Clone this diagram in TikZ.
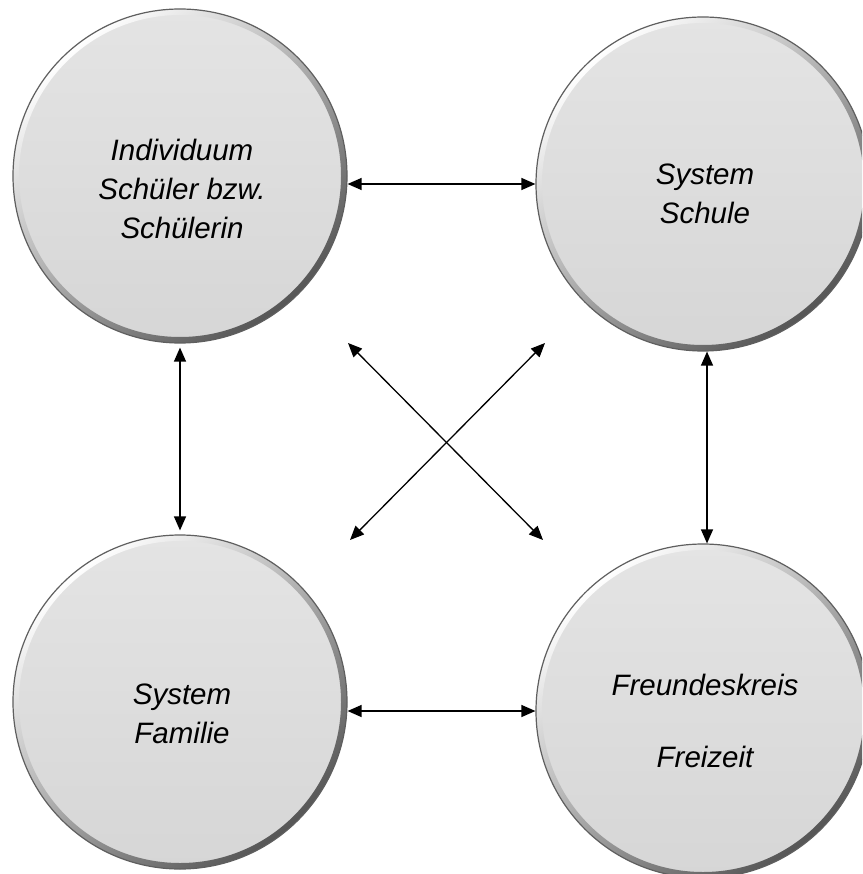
\documentclass[tikz,border=0pt]{standalone}
\usepackage{fontspec}
\setmainfont{Liberation Sans}
\usetikzlibrary{arrows.meta}
\definecolor{bodytop}{RGB}{228,228,228}
\definecolor{bodybot}{RGB}{214,214,214}
\definecolor{edgeline}{RGB}{95,95,95}
\definecolor{ringdark}{RGB}{85,85,85}
\tikzset{
  bubble/.style={circle, inner sep=0pt, minimum size=334pt,
    top color=bodytop, bottom color=bodybot, draw=edgeline, line width=1.2pt,
    path picture={
      \shade[even odd rule, top color=white, bottom color=ringdark, shading angle=40]
        (path picture bounding box.center) circle (168pt)
        (path picture bounding box.center) circle (161pt);
    }},
  lbl/.style={align=center, anchor=north, inner sep=0pt,
    font=\fontsize{29.5}{39}\selectfont\itshape},
  link/.style={line width=1.3pt, {Triangle[length=14pt,width=12pt]}-{Triangle[length=14pt,width=12pt]}}
}
\begin{document}
\begin{tikzpicture}[x=1pt,y=-1pt]
\path[use as bounding box, clip] (0,0) rectangle (862,874);
\fill[white] (0,0) rectangle (862,874);
\node[bubble] (ind) at (180,176) {};
\node[bubble] (sch) at (703,184) {};
\node[bubble] (fam) at (180,702) {};
\node[bubble] (fre) at (703,711) {};
\node[lbl] (tind) at (182,139) {Individuum\\Schüler bzw.\\Schülerin};
\node[lbl] (tsch) at (705,164) {System\\Schule};
\node[lbl] (tfam) at (182,684) {System\\Familie};
\node[lbl] (tfre) at (705,674) {Freundeskreis\\[33pt]Freizeit};
\draw[link] (ind.east |- sch.west) -- (sch.west);
\draw[link] (fam.east |- fre.west) -- (fre.west);
\draw[link] ([yshift=-4pt]ind.south) -- ([yshift=4pt]fam.north);
\draw[link] ([xshift=4pt]sch.south) -- ([xshift=4pt]fre.north);
\coordinate (x1) at (348,343);
\coordinate (x2) at (543,540);
\coordinate (x3) at (545,343);
\coordinate (x4) at (350,540);
\draw[link] (x1) -- (x2);
\draw[link] (x3) -- (x4);
\end{tikzpicture}
\end{document}
